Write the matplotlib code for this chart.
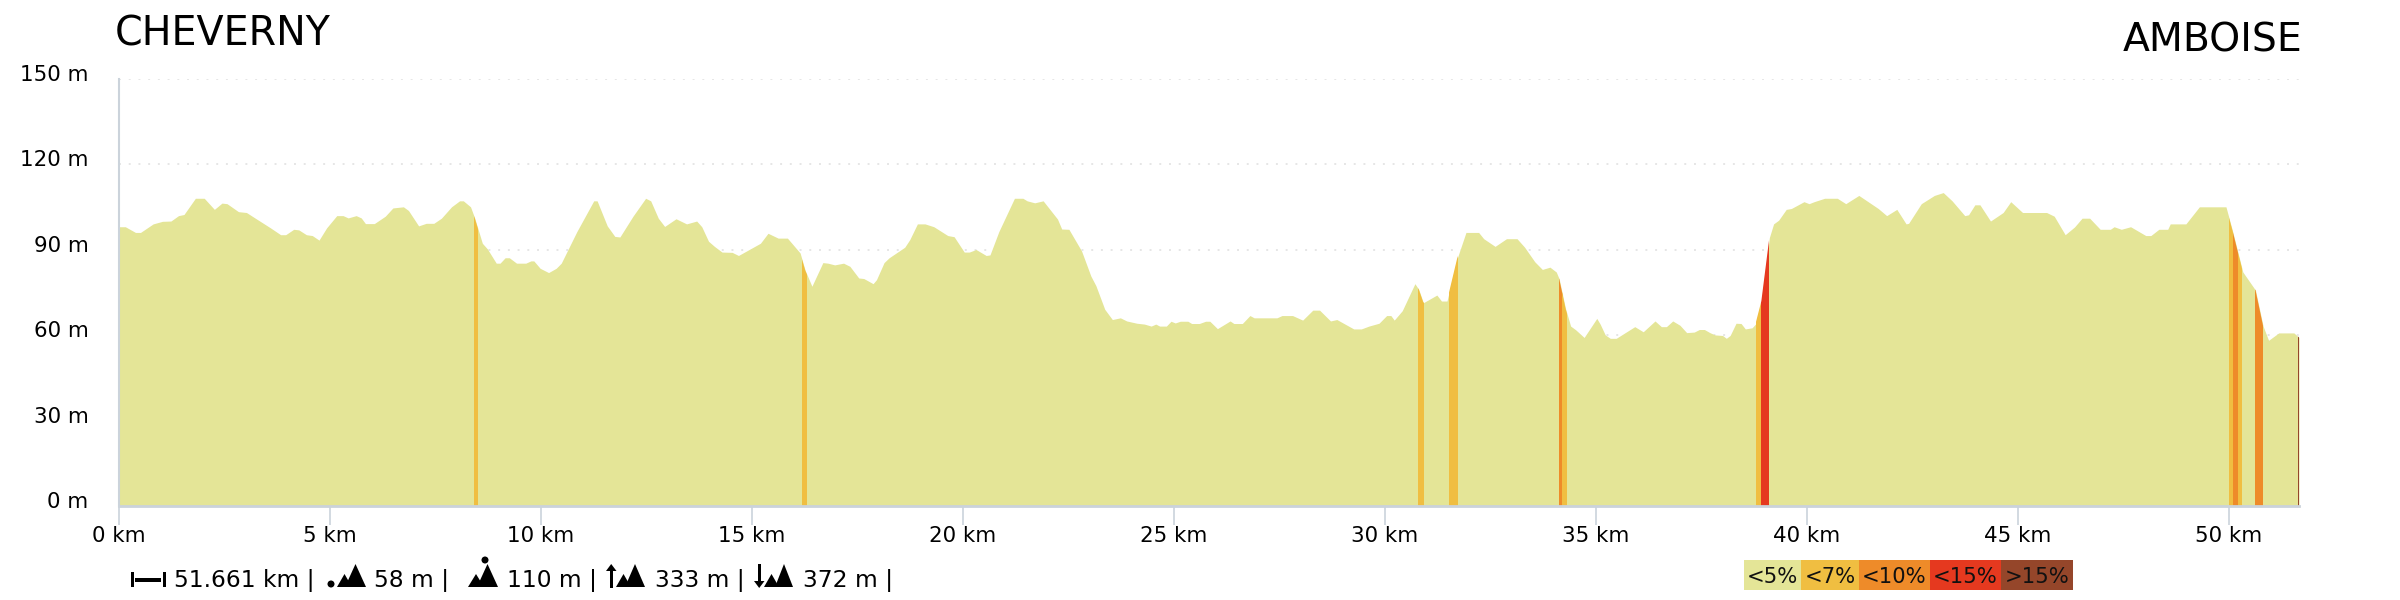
import matplotlib
matplotlib.use("Agg")
import matplotlib.pyplot as plt
from matplotlib.patches import Polygon, Rectangle, Circle
from matplotlib.transforms import ScaledTranslation

km = [0.00,0.15,0.39,0.51,0.81,1.03,1.23,1.41,1.54,1.81,2.02,2.26,2.44,2.56,2.83,3.02,3.23,3.59,3.83,3.95,4.14,4.26,4.44,4.58,4.74,4.92,5.16,5.31,5.43,5.62,5.74,5.84,6.05,6.31,6.49,6.74,6.86,7.10,7.28,7.46,7.64,7.88,8.07,8.16,8.33,8.43,8.61,8.73,8.94,9.03,9.15,9.25,9.42,9.64,9.76,9.83,9.98,10.18,10.36,10.48,10.85,11.25,11.33,11.57,11.75,11.87,12.18,12.48,12.60,12.78,12.93,13.20,13.45,13.69,13.81,13.97,14.11,14.29,14.53,14.68,15.20,15.38,15.62,15.84,16.14,
      16.26,16.42,16.68,16.80,16.96,17.17,17.32,17.53,17.65,17.87,17.95,18.13,18.25,18.62,18.74,18.92,19.10,19.31,19.64,19.79,20.03,20.15,20.31,20.55,20.64,20.85,21.22,21.42,21.52,21.70,21.90,22.24,22.34,22.51,22.81,23.03,23.15,23.36,23.54,23.73,23.88,24.12,24.30,24.46,24.57,24.66,24.82,24.93,25.03,25.15,25.33,25.42,25.60,25.75,25.85,26.03,26.33,26.42,26.62,26.80,26.90,27.44,27.56,27.81,28.05,28.29,28.45,28.71,28.86,29.26,29.44,29.62,29.86,30.04,30.14,30.22,30.41,30.71,30.80,30.91,31.23,31.34,31.47,31.71,31.92,32.22,32.34,32.61,32.88,33.13,33.31,33.55,33.73,33.91,34.06,34.13,34.28,34.40,34.52,34.72,35.02,35.10,
      35.22,35.34,35.48,35.92,36.12,36.40,36.55,36.67,36.82,36.99,37.15,37.33,37.45,37.57,37.70,37.82,38.00,38.09,38.18,38.32,38.44,38.54,38.70,38.78,38.92,39.11,39.21,39.33,39.51,39.63,39.93,40.05,40.17,40.42,40.72,40.92,41.23,41.69,41.89,42.13,42.35,42.41,42.71,43.02,43.23,43.44,43.74,43.83,43.98,44.10,44.35,44.65,44.83,45.11,45.68,45.86,46.12,46.34,46.52,46.70,46.95,47.19,47.28,47.45,47.67,48.03,48.15,48.34,48.55,48.61,48.98,49.30,49.93,50.09,50.33,50.63,50.81,50.94,51.18,51.54,51.661]
elevation = [98.1,98.1,96.1,96.1,99.1,100,100.1,102,102.4,108.1,108.1,104.2,106.4,106.2,103.4,103.1,101.1,97.7,95.3,95.3,97.2,97,95.3,95,93.4,97.7,102,102,101.2,102,101.2,99.2,99.2,101.8,104.7,105.1,103.8,98.4,99.3,99.3,101.1,105.1,107.2,107.2,105.1,101.1,92.3,90.3,85.3,85.3,87.2,87.2,85.3,85.3,86.1,86.1,83.5,82,83.5,85.3,96.4,107.2,107.2,98.4,94.7,94.5,101.8,108.1,107.2,101.1,98.2,100.9,99.1,100.1,98.1,93,91.2,89.2,89.1,88,92.3,95.8,94.1,94.1,88.9,
             82.8,77.2,85.5,85.3,84.7,85.3,84.2,80.1,79.9,78.1,79.5,85.5,87.2,90.9,93.6,99.1,99.1,98.1,95,94.6,89.2,89.2,90.1,88,88.2,96.4,108.1,108.1,107.2,106.5,107.2,100.8,97.3,97.2,89.6,80.8,77.4,69.1,65.5,66.1,65,64.2,63.9,63.2,63.9,63.2,63.2,64.9,64.3,64.9,64.9,64.1,64.1,64.9,64.9,62.3,65,64.1,64.1,66.9,66.1,66.1,66.9,66.9,65.3,68.8,68.8,65,65.5,62.2,62.2,63.2,64.2,66.9,66.9,65.3,68.6,78.1,76.1,71.4,74.1,72,72,86.9,96.1,96.1,93.9,91.2,93.9,93.9,90.9,85.8,83.1,83.9,82.2,79.7,69.3,63.2,61.9,59.2,65.9,63.9,
             60.1,58.9,58.9,63,61.2,65,63,63,65,63.5,60.9,61.1,62,62,60.9,60.1,59.9,58.9,59.9,64.2,64.1,62.2,62.6,63.9,72,94.3,99.1,100.4,104.2,104.5,106.9,106.2,106.9,108.1,108.1,106.2,109.1,104.5,102,104.2,99.1,99.3,106.2,109.1,110.1,107.2,102,102.3,105.8,105.8,100.1,103.1,106.9,103.1,103.1,101.8,95.3,98,101.1,101.1,97.2,97.2,98.1,97.2,98.1,95,95,97.2,97.2,99.1,99.1,105.1,105.1,96.4,82.2,75.8,63.2,58.2,60.8,60.8,59.2]

band_start = [8.41,16.18,30.79,31.51,34.12,34.20,38.80,38.90,50.01,50.10,50.22,50.62,51.64]
band_end   = [8.51,16.31,30.92,31.72,34.21,34.31,38.90,39.11,50.10,50.22,50.32,50.81,51.661]
band_class = [1,1,1,1,2,1,1,3,1,2,1,2,4]

grade_labels = ["<5%","<7%","<10%","<15%",">15%"]
grade_colors = ["#E4E597","#F0BE41","#EE8B29","#E5391F","#95462A"]
y_ticks = [0,30,60,90,120,150]
x_ticks = [0,5,10,15,20,25,30,35,40,45,50]
total_km = 51.661
start_name = "CHEVERNY"
end_name = "AMBOISE"
stats = ["51.661 km |","58 m |","110 m |","333 m |","372 m |"]

AXIS = "#CBD3DB"
fig = plt.figure(figsize=(24,6), dpi=100)
L,R,T,B = 119,2299,79,506
ax = fig.add_axes([L/2400,(600-B)/600,(R-L)/2400,(B-T)/600])
ax.set_xlim(0,total_km); ax.set_ylim(0,150)
area = ax.fill_between(km, elevation, 0, color=grade_colors[0], linewidth=0, zorder=2)
clip_path = area.get_paths()[0]
for a,b,c in zip(band_start,band_end,band_class):
    s = ax.axvspan(a,b,color=grade_colors[c],linewidth=0,zorder=3)
    s.set_clip_path(clip_path, area.get_transform())

for sp in ("top","right"):
    ax.spines[sp].set_visible(False)
ax.spines["left"].set_color(AXIS); ax.spines["left"].set_linewidth(1.5)
ax.spines["bottom"].set_color(AXIS); ax.spines["bottom"].set_linewidth(2)
ax.spines["bottom"].set_zorder(5)
ax.set_xticks(x_ticks); ax.set_xticklabels([f"{v} km" for v in x_ticks])
ax.set_yticks(y_ticks); ax.set_yticklabels([f"{v} m" for v in y_ticks])
ax.tick_params(axis="x",length=13.5,width=1.2,color=AXIS,labelsize=15.4,pad=1)
ax.tick_params(axis="y",length=0,labelsize=15.4,pad=22)
off = ScaledTranslation(0,6/72*0.72,fig.dpi_scale_trans)
for lab in ax.get_yticklabels():
    lab.set_transform(lab.get_transform()+off)
ax.set_axisbelow(True)
ax.grid(axis="y",color="#E6E6E6",linestyle=(0,(1,4)),linewidth=1.4,zorder=1)
ax.patch.set_alpha(0)

ov = fig.add_axes([0,0,1,1],zorder=10)
ov.set_xlim(0,2400); ov.set_ylim(600,0); ov.axis("off")
ov.text(115,35,start_name,fontsize=28.5,va="center",ha="left")
ov.text(2302,41,end_name,fontsize=28.4,va="center",ha="right")

def mountains(x1,x2,x3,x4,top1,top2,base=587):
    ov.add_patch(Polygon([(x1,base),((x1+x2)/2,top1),(x2,base)],color="k",lw=0))
    ov.add_patch(Polygon([(x3,base),((x3+x4)/2,top2),(x4,base)],color="k",lw=0))

# distance icon
ov.add_patch(Rectangle((131,572),3,15,color="k",lw=0))
ov.add_patch(Rectangle((163,572),3,15,color="k",lw=0))
ov.add_patch(Rectangle((135,578),26,3.5,color="k",lw=0))
ov.text(174,580,stats[0],fontsize=16.8,va="center",ha="left")
# min icon
ov.add_patch(Circle((331,584),3.5,color="k",lw=0))
mountains(337,352,345,366,574,564)
ov.text(374,580,stats[1],fontsize=16.8,va="center",ha="left")
# max icon
ov.add_patch(Circle((485,560),3.5,color="k",lw=0))
mountains(468,484,477,498,574,564)
ov.text(507,580,stats[2],fontsize=16.8,va="center",ha="left")
# gain icon
ov.add_patch(Rectangle((610,570),2.5,18,color="k",lw=0))
ov.add_patch(Polygon([(606,571),(611.2,564),(616.5,571)],color="k",lw=0))
mountains(616,631,625,645,574,564)
ov.text(655,580,stats[3],fontsize=16.8,va="center",ha="left")
# loss icon
ov.add_patch(Rectangle((758,564),2.5,18,color="k",lw=0))
ov.add_patch(Polygon([(754,581),(759.2,588),(764.5,581)],color="k",lw=0))
mountains(764,779,775,793,574,564)
ov.text(803,580,stats[4],fontsize=16.8,va="center",ha="left")

edges = [1744,1801,1859,1930,2001,2073]
for i,(lab,col) in enumerate(zip(grade_labels,grade_colors)):
    ov.add_patch(Rectangle((edges[i],560),edges[i+1]-edges[i],30,color=col,lw=0))
    ov.text((edges[i]+edges[i+1])/2,577,lab,fontsize=15.2,va="center",ha="center",color="#111111")

fig.savefig("out.png",dpi=100)
